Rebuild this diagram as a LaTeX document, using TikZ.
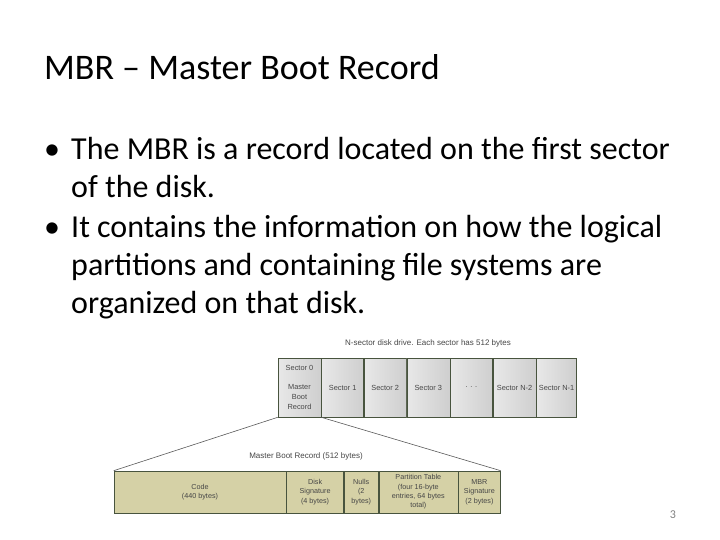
\documentclass[tikz,border=0pt]{standalone}
\usepackage{fontspec}
\setmainfont{Carlito}
\newfontfamily\diagfont{Liberation Sans}
\usetikzlibrary{positioning}
\definecolor{khaki}{RGB}{213,209,166}
\definecolor{edge}{RGB}{72,84,62}
\definecolor{txtgray}{RGB}{70,70,70}
\tikzset{
title/.style={anchor=base west,inner sep=0,font=\fontsize{36}{43}\selectfont},
bul/.style={anchor=base west,inner sep=0,align=left,font=\fontsize{32}{38}\selectfont},
dot/.style={anchor=base west,inner sep=0,font=\fontsize{32}{38}\selectfont},
sec/.style={draw=edge,line width=0.6pt,left color=gray!18,right color=gray!38,
  minimum height=59pt,inner sep=0,align=center,text=txtgray,
  font=\diagfont\fontsize{7.4}{10}\selectfont},
fld/.style={draw=edge,line width=0.6pt,fill=khaki,minimum height=42pt,inner sep=0,
  align=center,text=txtgray,font=\diagfont\fontsize{7.2}{9.3}\selectfont},
lbl/.style={inner sep=0,text=txtgray,font=\diagfont\fontsize{8}{9}\selectfont},
trap/.style={draw=gray!70!black,line width=0.6pt},
}
\begin{document}
\begin{tikzpicture}[x=1pt,y=-1pt]
	\useasboundingbox (0,0) rectangle (720,540);

	\node[title] (ttl) at (44,80) {MBR -- Master Boot Record};

	% bullets (base anchor sits on the last line)
	\node[dot] (b1) at (44,160) {\textbullet};
	\node[bul] (t1) at (71,197) {The MBR is a record located on the first sector\\of the disk.};
	\node[dot] (b2) at (44,237) {\textbullet};
	\node[bul] (t2) at (71,313) {It contains the information on how the logical\\partitions and containing file systems are\\organized on that disk.};

	% disk drive
	\node[lbl] (hdr) at (428,343) {N-sector disk drive. Each sector has 512 bytes};
	\node[sec,minimum width=43pt] (sec0) at (299.5,387.5) {Sector 0\\[9pt]Master\\Boot\\Record};
	\node[sec,minimum width=42pt,right=0pt of sec0] (sec1) {Sector 1};
	\node[sec,minimum width=42pt,right=0pt of sec1] (sec2) {Sector 2};
	\node[sec,minimum width=43pt,right=0pt of sec2] (sec3) {Sector 3};
	\node[sec,minimum width=42pt,right=0pt of sec3] (secd) {. . .};
	\node[sec,minimum width=43pt,right=0pt of secd] (secn2) {Sector N-2};
	\node[sec,minimum width=40pt,right=0pt of secn2] (secn1) {Sector N-1};

	% master boot record
	\node[lbl] (mbr) at (306,456) {Master Boot Record (512 bytes)};
	\node[fld,minimum width=172pt] (code) at (200,492) {Code\\(440 bytes)};
	\node[fld,minimum width=57pt,right=0pt of code] (dsig) {Disk\\Signature\\(4 bytes)};
	\node[fld,minimum width=34pt,right=0pt of dsig] (nul) {Nulls\\(2\\bytes)};
	\node[fld,minimum width=79pt,right=0pt of nul] (ptab) {Partition Table\\(four 16-byte\\entries, 64 bytes\\total)};
	\node[fld,minimum width=42pt,right=0pt of ptab] (msig) {MBR\\Signature\\(2 bytes)};

	\draw[trap] (sec0.south west) -- (code.north west);
	\draw[trap] (sec0.south east) -- (msig.north east);

	\node[inner sep=0,text=gray,font=\fontsize{12}{14}\selectfont] (pg) at (673,515) {3};
\end{tikzpicture}
\end{document}
